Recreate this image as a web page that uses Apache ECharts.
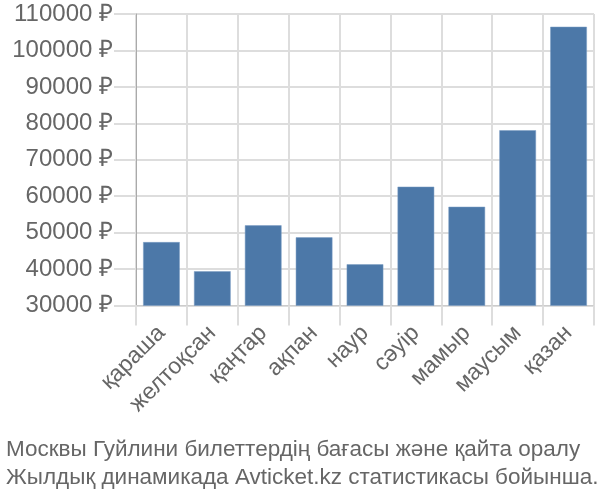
<!DOCTYPE html>
<html>
<head>
<meta charset="utf-8">
<script src="https://cdn.jsdelivr.net/npm/echarts@6/dist/echarts.min.js"></script>
<style>html,body{margin:0;padding:0;background:#fff}#c{width:600px;height:500px}</style>
</head>
<body>
<div id="c"></div>
<script>
const categories = ['қараша','желтоқсан','қаңтар','ақпан','наур','сәуір','мамыр','маусым','қазан'];
const prices = [47400, 39400, 52000, 48700, 41300, 62600, 57100, 78100, 106500];
const titleLines = ['Москвы Гуйлини билеттердің бағасы және қайта оралу', 'Жылдық динамикада Avticket.kz статистикасы бойынша.'];
const yMin = 30000, yMax = 110000, yStep = 10000;

const chart = echarts.init(document.getElementById('c'), null, {renderer: 'canvas'});
chart.setOption({
  animation: false,
  textStyle: {fontFamily: 'Liberation Sans, Arial, sans-serif'},
  title: {
    text: titleLines.join('\n'),
    left: 1, top: 431,
    textStyle: {fontSize: 22.5, fontWeight: 'normal', color: '#666', lineHeight: 28, fontFamily: 'Liberation Sans, Arial, sans-serif'}
  },
  grid: {left: 136, right: 6, top: 14, bottom: 194.5},
  xAxis: {
    type: 'category',
    data: categories,
    axisLine: {show: true, lineStyle: {color: '#ccc', width: 1}},
    axisTick: {show: true, alignWithLabel: false, length: 20, lineStyle: {color: '#ddd', width: 2}},
    splitLine: {show: true, lineStyle: {color: '#ddd', width: 2}},
    axisLabel: {rotate: 45, fontSize: 23, color: '#666', margin: 24, interval: 0}
  },
  yAxis: {
    type: 'value',
    min: yMin, max: yMax, interval: yStep,
    axisLine: {show: true, lineStyle: {color: '#aaa', width: 1}},
    axisTick: {show: true, length: 22, lineStyle: {color: '#ddd', width: 2}},
    splitLine: {show: true, lineStyle: {color: '#ddd', width: 2}},
    axisLabel: {formatter: function (v) { return v + ' ₽'; }, fontSize: 24, color: '#666', margin: 23}
  },
  series: [{
    type: 'bar',
    data: prices,
    barCategoryGap: '28%',
    itemStyle: {color: '#4c78a8', borderColor: '#7a9cc4', borderWidth: 0.5}
  }]
});
</script>
</body>
</html>
